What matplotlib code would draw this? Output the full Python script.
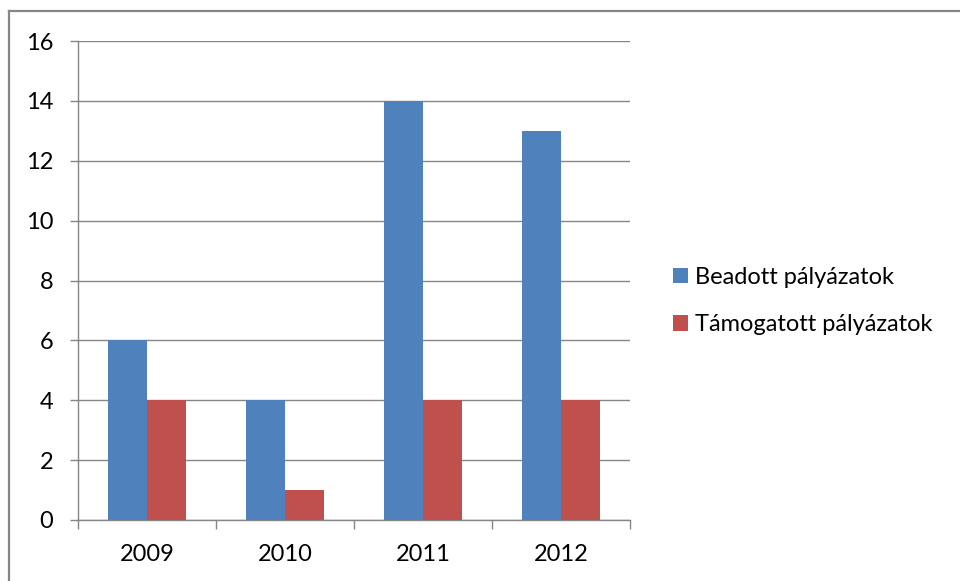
import matplotlib.pyplot as plt
import numpy as np
from matplotlib.lines import Line2D

years = ["2009", "2010", "2011", "2012"]
beadott = [6, 4, 14, 13]
tamogatott = [4, 1, 4, 4]
labels = ["Beadott pályázatok", "Támogatott pályázatok"]
colors = ["#4F81BD", "#C0504D"]

plt.rcParams["font.family"] = ["Lato", "DejaVu Sans"]
W, H = 960, 581
fig = plt.figure(figsize=(W / 100, H / 100), dpi=100)
ax = fig.add_axes([78 / W, 1 - 520 / H, (630 - 78) / W, (520 - 41) / H])

x = np.arange(len(years))
bw = 1 / 3.5
ax.bar(x - bw / 2, beadott, bw, color=colors[0], label=labels[0], zorder=3)
ax.bar(x + bw / 2, tamogatott, bw, color=colors[1], label=labels[1], zorder=3)

ax.set_xlim(-0.5, len(years) - 0.5)
ax.set_ylim(0, 16)
ax.set_yticks(range(0, 17, 2))
ax.grid(axis="y", color="#868686", linewidth=1, zorder=0)
ax.set_axisbelow(True)

ax.set_xticks(x)
ax.set_xticklabels(years)
ax.set_xticks(np.arange(-0.5, len(years)), minor=True)
ax.tick_params(axis="x", which="major", length=0, pad=17, labelsize=17)
ax.tick_params(axis="x", which="minor", length=6.5, color="#868686", width=1)
ax.tick_params(axis="y", length=5.8, color="#868686", width=1, pad=12, labelsize=17)

for s in ["top", "right"]:
    ax.spines[s].set_visible(False)
for s in ["left", "bottom"]:
    ax.spines[s].set_color("#868686")
    ax.spines[s].set_linewidth(1)

fig.legend(loc="center left", bbox_to_anchor=(652 / W, 1 - 301 / H),
           frameon=False, fontsize=17, handlelength=0.62, handleheight=0.62,
           handletextpad=0.3, labelspacing=1.12)

# chart area border (cropped on right and bottom)
fig.add_artist(Line2D([9 / W, 1], [1 - 11 / H, 1 - 11 / H], color="#868686", lw=1.6))
fig.add_artist(Line2D([9 / W, 9 / W], [0, 1 - 11 / H], color="#868686", lw=1.6))

fig.savefig("out.png", dpi=100)
